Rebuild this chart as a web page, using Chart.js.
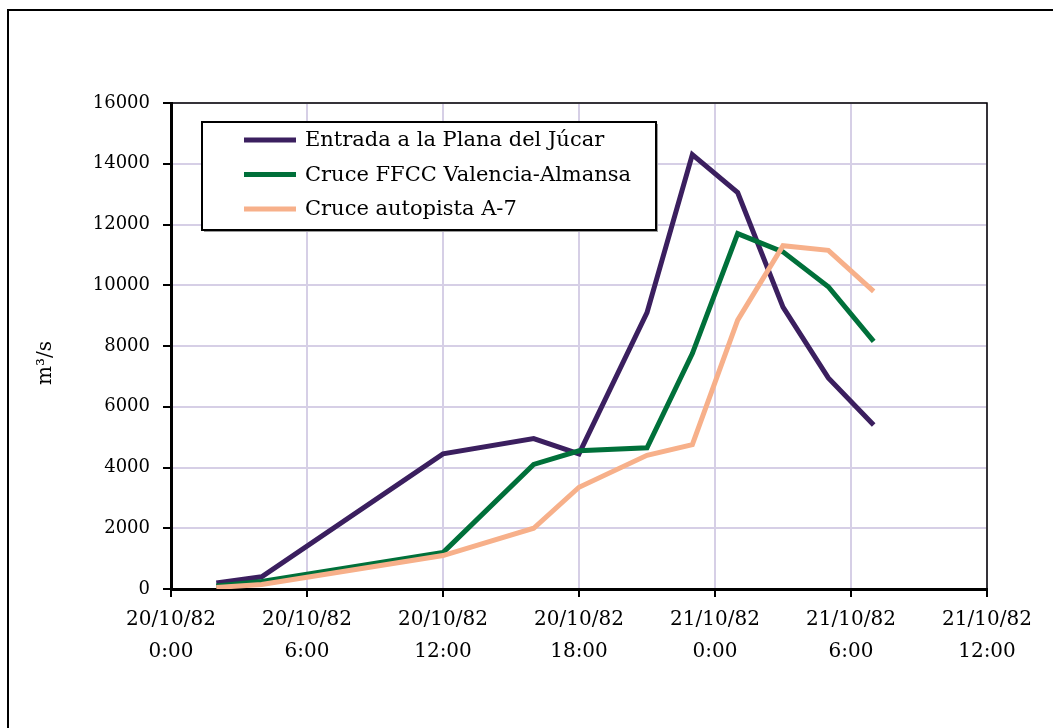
<!DOCTYPE html>
<html>
<head>
<meta charset="utf-8">
<script src="https://cdn.jsdelivr.net/npm/chart.js@4/dist/chart.umd.min.js"></script>
<style>
  html, body { margin: 0; padding: 0; background: #ffffff; }
  canvas { display: block; }
</style>
</head>
<body>
<canvas id="c" width="1053" height="728"></canvas>
<script>
// Hours elapsed since 20/10/82 0:00
const hours = [2, 4, 12, 16, 18, 21, 23, 25, 27, 29, 31];

// Discharge (m3/s) at each station
const entradaPlana = [200, 400, 4450, 4950, 4450, 9100, 14300, 13050, 9280, 6950, 5400];
const cruceFFCC    = [100, 250, 1200, 4100, 4550, 4650, 7750, 11700, 11100, 9950, 8150];
const cruceA7      = [50, 150, 1100, 2000, 3350, 4400, 4750, 8850, 11300, 11150, 9800];

const seriesNames = [
  'Entrada a la Plana del Júcar',
  'Cruce FFCC Valencia-Almansa',
  'Cruce autopista A-7'
];

// Two-line labels for the time axis, one per 6-hour step
const tickDates = ['20/10/82', '20/10/82', '20/10/82', '20/10/82', '21/10/82', '21/10/82', '21/10/82'];
const tickTimes = ['0:00', '6:00', '12:00', '18:00', '0:00', '6:00', '12:00'];

const yAxisTitle = 'm\u00B3/s';

const FONT = 'DejaVu Serif';
const colors = ['#3b1f5f', '#00703a', '#f7b08a'];
const gridColor = '#d6cfe6';

function toPoints(values) {
  return values.map((v, i) => ({ x: hours[i], y: v }));
}

// Outer frame and plot-area border
const framePlugin = {
  id: 'frame',
  beforeDraw(chart) {
    const ctx = chart.ctx;
    ctx.save();
    ctx.fillStyle = '#ffffff';
    ctx.fillRect(0, 0, chart.width, chart.height);
    ctx.strokeStyle = '#000000';
    ctx.lineWidth = 2;
    ctx.beginPath();
    ctx.moveTo(8, chart.height);
    ctx.lineTo(8, 10);
    ctx.lineTo(chart.width, 10);
    ctx.stroke();
    ctx.restore();
  },
  afterDraw(chart) {
    const a = chart.chartArea;
    const ctx = chart.ctx;
    ctx.save();
    ctx.strokeStyle = '#000000';
    ctx.lineWidth = 1.5;
    ctx.beginPath();
    ctx.moveTo(a.left - 8, a.top);
    ctx.lineTo(a.right, a.top);
    ctx.lineTo(a.right, a.bottom);
    ctx.stroke();
    ctx.restore();
  }
};

// Rotated unit label beside the value axis
const yTitlePlugin = {
  id: 'yTitle',
  afterDraw(chart) {
    const ctx = chart.ctx;
    ctx.save();
    ctx.translate(46, 363);
    ctx.rotate(-Math.PI / 2);
    ctx.fillStyle = '#000000';
    ctx.font = '20px "' + FONT + '"';
    ctx.textAlign = 'center';
    ctx.textBaseline = 'middle';
    ctx.fillText(yAxisTitle, 0, 0);
    ctx.restore();
  }
};

// Boxed legend inside the plot area, listed in series order
const boxLegendPlugin = {
  id: 'boxLegend',
  afterDatasetsDraw(chart) {
    const ctx = chart.ctx;
    const bx = 202, by = 122, bw = 454, bh = 108;
    ctx.save();
    ctx.fillStyle = '#9a9a9a';
    ctx.fillRect(bx + 2, by + 2, bw, bh);
    ctx.fillStyle = '#ffffff';
    ctx.fillRect(bx, by, bw, bh);
    ctx.strokeStyle = '#000000';
    ctx.lineWidth = 2;
    ctx.strokeRect(bx, by, bw, bh);
    ctx.font = '21px "' + FONT + '"';
    ctx.textBaseline = 'middle';
    ctx.fillStyle = '#000000';
    const items = chart.data.datasets.slice().sort((a, b) => a.legendIndex - b.legendIndex);
    items.forEach((ds, i) => {
      const y = 140 + i * 34.5;
      ctx.strokeStyle = ds.borderColor;
      ctx.lineWidth = 5;
      ctx.lineCap = 'butt';
      ctx.beginPath();
      ctx.moveTo(244, y);
      ctx.lineTo(296, y);
      ctx.stroke();
      ctx.fillText(ds.label, 305, y + 1);
    });
    ctx.restore();
  }
};

// Later stations are drawn over earlier ones
const datasets = [
  { label: seriesNames[0], data: toPoints(entradaPlana), borderColor: colors[0], legendIndex: 0 },
  { label: seriesNames[1], data: toPoints(cruceFFCC), borderColor: colors[1], legendIndex: 1 },
  { label: seriesNames[2], data: toPoints(cruceA7), borderColor: colors[2], legendIndex: 2 }
].map(d => Object.assign(d, {
  borderWidth: 5,
  pointRadius: 0,
  tension: 0,
  fill: false,
  borderJoinStyle: 'miter',
  borderCapStyle: 'butt'
})).reverse();

new Chart(document.getElementById('c'), {
  type: 'line',
  data: { datasets },
  options: {
    responsive: false,
    animation: false,
    layout: { padding: { left: 0, top: 103, right: 66, bottom: 0 } },
    plugins: {
      legend: { display: false },
      tooltip: { enabled: false }
    },
    scales: {
      x: {
        type: 'linear',
        min: 0,
        max: 36,
        afterFit(scale) { scale.height = 139; },
        ticks: {
          stepSize: 6,
          autoSkip: false,
          maxRotation: 0,
          padding: 7,
          color: '#000000',
          font: { family: FONT, size: 20, lineHeight: 1.6 },
          callback: (v) => [tickDates[v / 6], tickTimes[v / 6]]
        },
        grid: {
          color: gridColor,
          lineWidth: 2,
          tickColor: '#000000',
          tickLength: 8,
          tickWidth: 2
        },
        border: { color: '#000000', width: 3 }
      },
      y: {
        min: 0,
        max: 16000,
        afterFit(scale) { scale.width = 171; },
        ticks: {
          stepSize: 2000,
          padding: 13,
          color: '#000000',
          font: { family: FONT, size: 18 },
          callback: (v) => String(v)
        },
        grid: {
          color: gridColor,
          lineWidth: 2,
          tickColor: '#000000',
          tickLength: 8,
          tickWidth: 2
        },
        border: { color: '#000000', width: 3 }
      }
    }
  },
  plugins: [framePlugin, yTitlePlugin, boxLegendPlugin]
});
</script>
</body>
</html>
